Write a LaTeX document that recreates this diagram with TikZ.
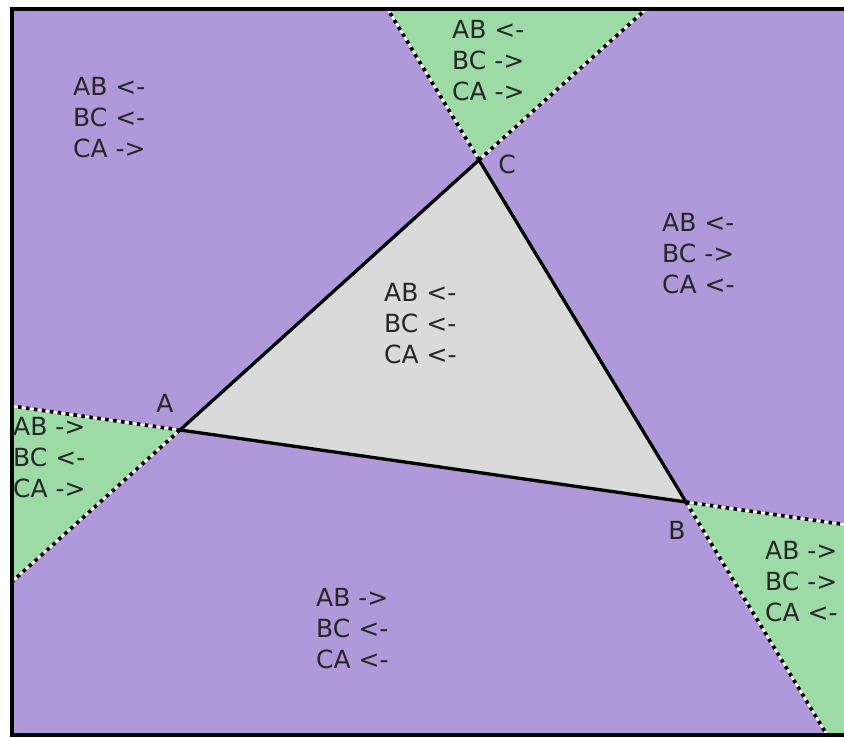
\documentclass[tikz,border=0pt]{standalone}
\usepackage{fontspec}
\setmainfont{DejaVu Sans}
\usetikzlibrary{calc}
\definecolor{regpurple}{RGB}{175,153,218}
\definecolor{reggreen}{RGB}{156,219,166}
\definecolor{trigray}{RGB}{218,218,218}
\begin{document}
\begin{tikzpicture}[x=1pt,y=-1pt,
  lbl/.style={font=\fontsize{25}{31}\selectfont, align=left, anchor=west, inner sep=0pt, text=black!85},
  vlbl/.style={font=\fontsize{25}{31}\selectfont, inner sep=0pt, text=black!85},
  extline/.style={preaction={draw=white, solid, line width=2.2pt}, draw=black, line width=3.6pt, dash pattern=on 3.6pt off 4.4pt},
  edge/.style={draw=black, line width=3.3pt, line join=miter},
  frame/.style={draw=black, line width=4pt}]
\useasboundingbox (0,0) rectangle (844,737);
\coordinate (A) at (180,430);
\coordinate (B) at (686,502);
\coordinate (C) at (479,160);
\coordinate (TL) at (12,9);
\coordinate (BL) at (12,735);
\coordinate (TR) at (870,9);
\coordinate (BR) at (870,735);
\begin{scope}
  \clip (TL) rectangle (BR);
  \fill[regpurple] (TL) rectangle (BR);
  \fill[reggreen] (C) -- ($(B)!2.5!(C)$) -- ($(A)!2.5!(C)$) -- cycle;
  \fill[reggreen] (A) -- ($(B)!2.5!(A)$) -- ($(C)!2.5!(A)$) -- cycle;
  \fill[reggreen] (B) -- ($(A)!2.5!(B)$) -- ($(C)!2.5!(B)$) -- cycle;
  \fill[trigray] (A) -- (B) -- (C) -- cycle;
  \draw[extline] (C) -- ($(B)!2.5!(C)$);
  \draw[extline] (C) -- ($(A)!2.5!(C)$);
  \draw[extline] (A) -- ($(B)!2.5!(A)$);
  \draw[extline] (A) -- ($(C)!2.5!(A)$);
  \draw[extline] (B) -- ($(A)!2.5!(B)$);
  \draw[extline] (B) -- ($(C)!2.5!(B)$);
\end{scope}
\draw[edge] (A) -- (B) -- (C) -- cycle;
\draw[frame] (TR) -- (TL) -- (BL) -- (BR);
\node[vlbl] (la) at (165,403) {A};
\node[vlbl] (lb) at (677,530) {B};
\node[vlbl] (lc) at (507,164) {C};
\node[lbl] (r1) at (73,118) {AB <-\\BC <-\\CA ->};
\node[lbl] (r2) at (452,61) {AB <-\\BC ->\\CA ->};
\node[lbl] (r3) at (662,254) {AB <-\\BC ->\\CA <-};
\node[lbl] (r4) at (384,324) {AB <-\\BC <-\\CA <-};
\node[lbl] (r5) at (13,458) {AB ->\\BC <-\\CA ->};
\node[lbl] (r6) at (765,582) {AB ->\\BC ->\\CA <-};
\node[lbl] (r7) at (316,629) {AB ->\\BC <-\\CA <-};
\end{tikzpicture}
\end{document}
